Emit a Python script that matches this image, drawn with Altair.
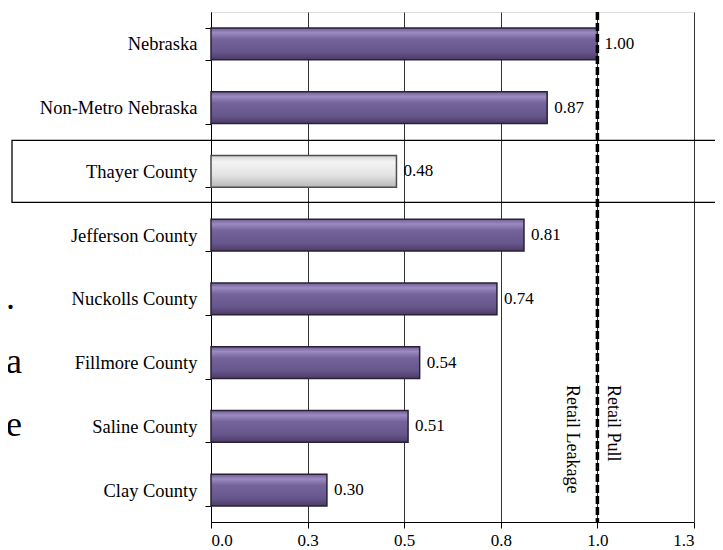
import altair as alt
import pandas as pd

# ---- data -------------------------------------------------------------
categories = ["Nebraska", "Non-Metro Nebraska", "Thayer County", "Jefferson County",
              "Nuckolls County", "Fillmore County", "Saline County", "Clay County"]
values = [1.00, 0.87, 0.48, 0.81, 0.74, 0.54, 0.51, 0.30]
highlight = ["Thayer County"]
tick_values = [0, 0.25, 0.5, 0.75, 1.0, 1.25]
tick_labels = ["0.0", "0.3", "0.5", "0.8", "1.0", "1.3"]
threshold = [1.0]
side_labels = ["Retail Leakage", "Retail Pull"]
fragment_rows = ["Nuckolls County", "Fillmore County", "Saline County"]  # cut-off body text
fragment_text = [".", "a", "e"]

df = pd.DataFrame({"county": categories, "index": values})
df["hl"] = df["county"].isin(highlight)

FONT = "Liberation Serif"
W, H = 483, 510

xscale = alt.Scale(domain=[0, 1.25], nice=False, zero=True)
yscale = alt.Scale(domain=categories, paddingInner=0.5, paddingOuter=0.25)

label_expr = "[" + ",".join(f"'{t}'" for t in tick_labels) + "][round(datum.value*4)]"

xaxis = alt.Axis(values=tick_values, labelExpr=label_expr, grid=True, gridColor="#333333",
                 gridWidth=1, domainColor="black", tickColor="black", tickSize=6,
                 labelFontSize=17, labelPadding=4, labelColor="black", title=None,
                 labelFont=FONT)
yaxis = alt.Axis(title=None, tickBand="extent", tickSize=6, labelPadding=8,
                 labelFontSize=18.5, domainColor="black", tickColor="black",
                 labelColor="black", grid=False, labelFont=FONT)

X = alt.X("index:Q", scale=xscale, axis=xaxis)
Y = alt.Y("county:N", scale=yscale, sort=categories, axis=yaxis)

purple = alt.Gradient(
    gradient="linear", x1=0, x2=0, y1=0, y2=1,
    stops=[alt.GradientStop(color="#6f5e95", offset=0),
           alt.GradientStop(color="#9c8bbf", offset=0.15),
           alt.GradientStop(color="#75639b", offset=0.35),
           alt.GradientStop(color="#67568c", offset=0.75),
           alt.GradientStop(color="#4a3c66", offset=1)])
silver = alt.Gradient(
    gradient="linear", x1=0, x2=0, y1=0, y2=1,
    stops=[alt.GradientStop(color="#d0d0d0", offset=0),
           alt.GradientStop(color="#f4f4f4", offset=0.2),
           alt.GradientStop(color="#e4e4e4", offset=0.6),
           alt.GradientStop(color="#b8b8b8", offset=1)])

base = alt.Chart(df)

bars_p = base.transform_filter("!datum.hl").mark_bar(
    fill=purple, stroke="#2a2136", strokeWidth=1.5).encode(x=X, y=Y)
bars_h = base.transform_filter("datum.hl").mark_bar(
    fill=silver, stroke="#4d4d4d", strokeWidth=1.5).encode(x=X, y=Y)

vals = base.mark_text(align="left", baseline="middle", dx=7, fontSize=17,
                      font=FONT, color="black").encode(
    x=X, y=Y, text=alt.Text("index:Q", format=".2f"))

box = base.transform_filter("datum.hl").mark_rect(
    fillOpacity=0, stroke="black", strokeWidth=1.3, height=62).encode(
    y=Y, x=alt.value(-199), x2=alt.value(530))

thr = pd.DataFrame({"t": threshold})
rule = alt.Chart(thr).mark_rule(color="black", strokeWidth=3.5,
                                strokeDash=[8, 3]).encode(x=alt.X("t:Q", scale=xscale))

leak = alt.Chart(pd.DataFrame({"t": threshold, "lab": [side_labels[0]]})).mark_text(
    angle=90, align="left", baseline="middle", dy=25, fontSize=18, font=FONT,
    color="black").encode(x=alt.X("t:Q", scale=xscale), y=alt.value(373), text="lab:N")
pull = alt.Chart(pd.DataFrame({"t": threshold, "lab": [side_labels[1]]})).mark_text(
    angle=90, align="left", baseline="middle", dy=-16, fontSize=18, font=FONT,
    color="black").encode(x=alt.X("t:Q", scale=xscale), y=alt.value(373), text="lab:N")

frag = alt.Chart(pd.DataFrame({"county": fragment_rows, "t": fragment_text})).mark_text(
    align="left", baseline="alphabetic", fontSize=36, font=FONT, color="black",
    dy=10).encode(y=alt.Y("county:N", scale=yscale, sort=categories, axis=yaxis),
                  x=alt.value(-205), text="t:N")

chart = alt.layer(bars_p, bars_h, vals, box, rule, leak, pull, frag).properties(
    width=W, height=H,
    autosize=alt.AutoSizeParams(type="none"),
    padding={"left": 203, "top": 4, "right": 21, "bottom": 28},
).configure_view(stroke="#999999", strokeWidth=1).configure(font=FONT)

chart.save("out.html", embed_options={"renderer": "svg", "actions": False})
